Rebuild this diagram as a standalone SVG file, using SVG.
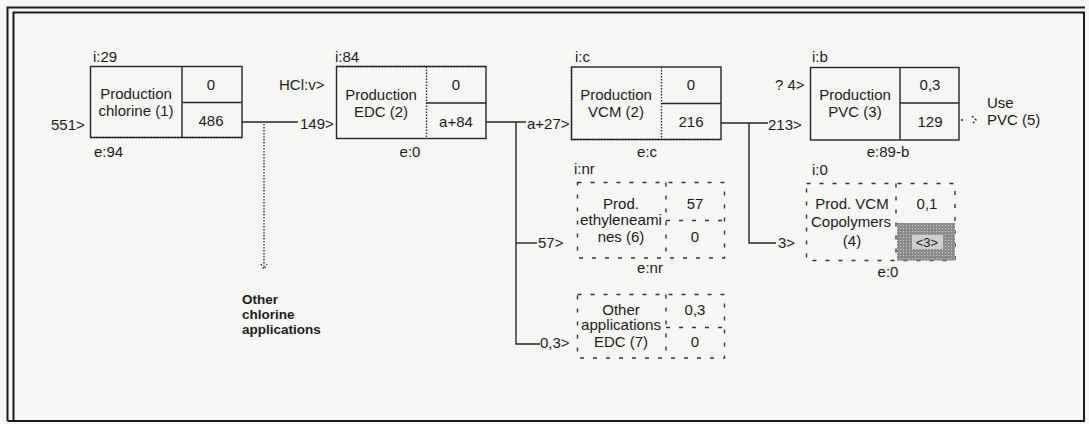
<svg xmlns="http://www.w3.org/2000/svg" width="1089" height="424" viewBox="0 0 1089 424">
<style>
text{font-family:"Liberation Sans",Arial,sans-serif;font-size:15px;fill:#1c1c1c}
.c{text-anchor:middle}
.b{font-weight:bold;font-size:13.5px}
.box{fill:none;stroke:#262626;stroke-width:1.4}
.dot{fill:none;stroke:#262626;stroke-width:1.3;stroke-dasharray:1.5 1.5}
.dash{fill:none;stroke:#333;stroke-width:1.4;stroke-dasharray:4 9}
.ln{fill:none;stroke:#262626;stroke-width:1.4}
.frame{fill:none;stroke:#1a1a1a;stroke-width:2}
</style>
<defs>
<pattern id="stip" width="3" height="3" patternUnits="userSpaceOnUse">
<rect width="3" height="3" fill="#8c8c8c"/>
<rect width="1" height="1" fill="#c8c8c8"/>
</pattern>
</defs>
<rect width="1089" height="424" fill="#f6f6f4"/>
<g id="frame">
<path class="frame" d="M7.5 421 V7.5 H1085"/>
<path class="frame" d="M13.5 420 V12.5 H1084 V421 H7.5" stroke-width="1.6"/>
</g>
<g id="connectors">
<path class="ln" d="M242 122 H298"/>
<path class="dot" d="M264 124 V266" stroke-dasharray="2 10"/>
<path class="ln" d="M261 264 L264 269 L267 264" stroke-dasharray="1.5 2"/>
<path class="ln" d="M486 122 H526"/>
<path class="ln" d="M516 122 V344 H540"/>
<path class="ln" d="M516 243 H537"/>
<path class="ln" d="M721 123 H768"/>
<path class="ln" d="M749 123 V243 H776"/>
<path class="ln" d="M961 120 H965 M972 116 L976 120 L972 124" stroke-dasharray="2 2"/>
</g>
<g id="node1">
<rect class="box" x="90.5" y="66.5" width="151.5" height="71"/>
<path class="dot" d="M90.5 137.5 H242"/>
<path class="box" d="M182 66.5 V137.5 M182 102.5 H242"/>
<text class="c" x="136" y="99">Production</text>
<text class="c" x="136" y="116">chlorine (1)</text>
<text class="c" x="211" y="90">0</text>
<text class="c" x="211" y="126">486</text>
<text x="93" y="62">i:29</text>
<text x="94" y="157">e:94</text>
<text x="51" y="130">551&gt;</text>
</g>
<g id="node_other_chlorine">
<text class="b" x="242" y="304">Other</text>
<text class="b" x="242" y="319">chlorine</text>
<text class="b" x="242" y="334">applications</text>
</g>
<g id="node2">
<rect class="box" x="336.5" y="66.5" width="149.5" height="72"/>
<path class="dot" d="M336.5 66.5 H486"/>
<path class="dot" d="M426.5 66.5 V138.5"/>
<path class="box" d="M426.5 103 H486"/>
<text class="c" x="381" y="100">Production</text>
<text class="c" x="381" y="117">EDC (2)</text>
<text class="c" x="456" y="90">0</text>
<text class="c" x="456" y="127">a+84</text>
<text x="335" y="62">i:84</text>
<text class="c" x="410" y="157">e:0</text>
<text x="279" y="90">HCl:v&gt;</text>
<text x="300" y="129">149&gt;</text>
<text x="527" y="129">a+27&gt;</text>
</g>
<g id="node3">
<rect class="box" x="571.5" y="67" width="149.5" height="72.5"/>
<path class="dot" d="M571.5 67 V139.5 H721"/>
<path class="dot" d="M661.5 67 V139.5"/>
<path class="box" d="M661.5 103.5 H721"/>
<text class="c" x="616" y="100">Production</text>
<text class="c" x="616" y="117">VCM (2)</text>
<text class="c" x="691" y="90">0</text>
<text class="c" x="691" y="127">216</text>
<text x="575" y="62">i:c</text>
<text class="c" x="647" y="157">e:c</text>
</g>
<g id="node4">
<rect class="box" x="810.5" y="67.5" width="148.5" height="72.5"/>
<path class="box" d="M900 67.5 V140 M900 103 H959"/>
<text class="c" x="855" y="100">Production</text>
<text class="c" x="855" y="117">PVC (3)</text>
<text class="c" x="930" y="90">0,3</text>
<text class="c" x="930" y="127">129</text>
<text x="812" y="62">i:b</text>
<text class="c" x="888" y="157">e:89-b</text>
<text x="775" y="90">? 4&gt;</text>
<text x="768" y="130">213&gt;</text>
</g>
<g id="node5">
<text x="987" y="108">Use</text>
<text x="987" y="125">PVC (5)</text>
</g>
<g id="node6">
<rect class="dash" x="577.5" y="182.5" width="147" height="75.5"/>
<path class="dash" d="M666 182.5 V258 M666 220.5 H724.5"/>
<text class="c" x="621" y="209">Prod.</text>
<text class="c" x="621" y="225" textLength="82" lengthAdjust="spacingAndGlyphs">ethyleneami</text>
<text class="c" x="621" y="242">nes (6)</text>
<text class="c" x="695" y="209">57</text>
<text class="c" x="695" y="242">0</text>
<text x="574" y="174">i:nr</text>
<text class="c" x="650" y="273">e:nr</text>
<text x="538" y="248">57&gt;</text>
</g>
<g id="node7">
<rect class="dash" x="577.5" y="294.5" width="147" height="63.5"/>
<path class="dash" d="M666 294.5 V358 M666 327.5 H724.5"/>
<text class="c" x="621" y="315">Other</text>
<text class="c" x="621" y="330" textLength="80" lengthAdjust="spacingAndGlyphs">applications</text>
<text class="c" x="621" y="347">EDC (7)</text>
<text class="c" x="695" y="315">0,3</text>
<text class="c" x="695" y="347">0</text>
<text x="540" y="348">0,3&gt;</text>
</g>
<g id="node8">
<rect class="dash" x="806.5" y="183.5" width="148.5" height="77"/>
<rect x="897" y="223" width="58" height="37.5" fill="url(#stip)"/>
<rect x="912" y="235" width="31" height="14" fill="#cfcfcf"/>
<path class="dash" d="M896 183.5 V260.5"/>
<text class="c" x="852" y="209">Prod. VCM</text>
<text class="c" x="851" y="227" textLength="80" lengthAdjust="spacingAndGlyphs">Copolymers</text>
<text class="c" x="852" y="246">(4)</text>
<text class="c" x="927" y="209">0,1</text>
<text class="c" x="927" y="247" style="font-size:13px">&lt;3&gt;</text>
<text x="812" y="175">i:0</text>
<text class="c" x="888" y="277">e:0</text>
<text x="778" y="248">3&gt;</text>
</g>
</svg>
